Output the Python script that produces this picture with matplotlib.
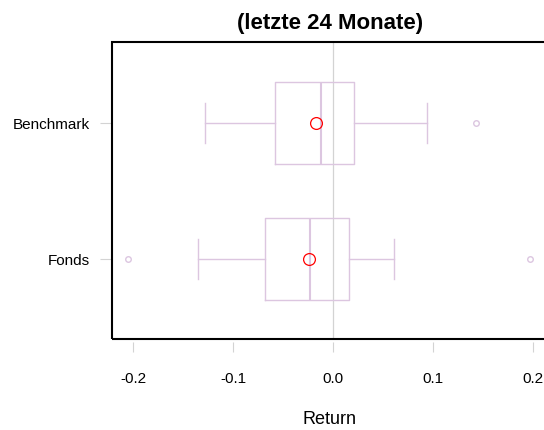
import matplotlib.pyplot as plt
from matplotlib.patches import Rectangle

plt.rcParams['font.family'] = ['Liberation Sans', 'DejaVu Sans']

categories = ['Fonds', 'Benchmark']
whislo = [-0.135, -0.128]
q1 = [-0.068, -0.058]
med = [-0.023, -0.012]
q3 = [0.016, 0.021]
whishi = [0.061, 0.094]
means = [-0.024, -0.017]
fliers = [[-0.205, 0.197], [0.143]]

box_col = '#dcc6e0'
grid_col = '#d3d3d3'

stats = []
for i, name in enumerate(categories):
    stats.append({'label': name, 'whislo': whislo[i], 'q1': q1[i], 'med': med[i],
                  'q3': q3[i], 'whishi': whishi[i], 'mean': means[i], 'fliers': fliers[i]})

fig = plt.figure(figsize=(5.44, 4.3), dpi=100)
ax = fig.add_axes([112 / 544, 91 / 430, 436 / 544, 297 / 430])

ax.axvline(0, color=grid_col, lw=0.9, zorder=0)

ax.bxp(stats, positions=[1, 2], vert=False, widths=0.6, showmeans=True,
       boxprops=dict(color=box_col, lw=1),
       whiskerprops=dict(color=box_col, lw=1),
       capprops=dict(color=box_col, lw=1),
       medianprops=dict(color=box_col, lw=1.5),
       meanprops=dict(marker='o', markerfacecolor='none', markeredgecolor='red', markersize=8.5, markeredgewidth=0.9),
       flierprops=dict(marker='o', markerfacecolor='none', markeredgecolor=box_col, markersize=4))

ax.set_xlim(-0.221, 0.215)
ax.set_ylim(0.412, 2.596)
ax.set_xticks([-0.2, -0.1, 0.0, 0.1, 0.2])
ax.set_xticklabels(['-0.2', '-0.1', '0.0', '0.1', '0.2'])
ax.set_yticks([1, 2])
ax.set_yticklabels(categories)

for s in ax.spines.values():
    s.set_visible(False)
ax.spines['bottom'].set_position(('outward', 2))
ax.add_patch(Rectangle((0, 0), 1, 1, transform=ax.transAxes, fill=False,
                       edgecolor='black', lw=1.5, clip_on=False, zorder=5))

ax.tick_params(axis='x', length=7.5, color=grid_col, labelsize=11, pad=14)
ax.tick_params(axis='y', length=9, color=grid_col, labelsize=11, pad=7)

ax.set_title('(letzte 24 Monate)', fontsize=16, fontweight='bold', pad=9)
ax.set_xlabel('Return', fontsize=13, labelpad=18.5)

fig.savefig('out.png', dpi=100)
